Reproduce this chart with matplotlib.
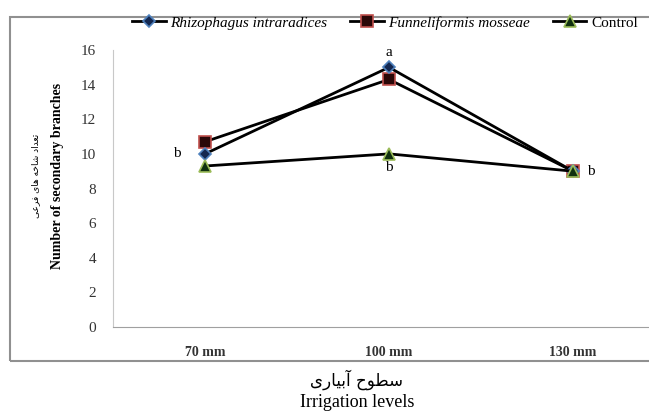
import matplotlib.pyplot as plt
from matplotlib.patches import Rectangle

plt.rcParams['font.family'] = ['Liberation Serif', 'DejaVu Sans']

levels = ['70 mm', '100 mm', '130 mm']
rhizophagus = [10.0, 15.0, 9.0]
funneliformis = [10.7, 14.3, 9.0]
control = [9.3, 10.0, 9.0]
# significance letters: (level index, value, letter)
letters = [(0, 10.0, 'b'), (1, 15.0, 'a'), (1, 10.0, 'b'), (2, 9.0, 'b')]

ylabel_fa = 'تعداد شاخه های فرعی'
xlabel_fa = 'سطوح آبیاری'

# minimal persian shaping (matplotlib has no complex text layout)
forms = {
    'ا': ('\uFE8D', '\uFE8E', None, None),
    'آ': ('\uFE81', '\uFE82', None, None),
    'ب': ('\uFE8F', '\uFE90', '\uFE91', '\uFE92'),
    'ت': ('\uFE95', '\uFE96', '\uFE97', '\uFE98'),
    'ح': ('\uFEA1', '\uFEA2', '\uFEA3', '\uFEA4'),
    'خ': ('\uFEA5', '\uFEA6', '\uFEA7', '\uFEA8'),
    'د': ('\uFEA9', '\uFEAA', None, None),
    'ر': ('\uFEAD', '\uFEAE', None, None),
    'س': ('\uFEB1', '\uFEB2', '\uFEB3', '\uFEB4'),
    'ش': ('\uFEB5', '\uFEB6', '\uFEB7', '\uFEB8'),
    'ط': ('\uFEC1', '\uFEC2', '\uFEC3', '\uFEC4'),
    'ع': ('\uFEC9', '\uFECA', '\uFECB', '\uFECC'),
    'ف': ('\uFED1', '\uFED2', '\uFED3', '\uFED4'),
    'ه': ('\uFEE9', '\uFEEA', '\uFEEB', '\uFEEC'),
    'و': ('\uFEED', '\uFEEE', None, None),
    'ی': ('\uFBFC', '\uFBFD', '\uFBFE', '\uFBFF'),
}


def shape(s):
    out = []
    for i, ch in enumerate(s):
        if ch not in forms:
            out.append(ch)
            continue
        prev = s[i - 1] if i > 0 else ' '
        nxt = s[i + 1] if i < len(s) - 1 else ' '
        join_prev = prev in forms and forms[prev][2] is not None
        join_next = nxt in forms and forms[ch][2] is not None
        iso, fin, ini, med = forms[ch]
        if join_prev and join_next:
            out.append(med)
        elif join_prev:
            out.append(fin)
        elif join_next:
            out.append(ini)
        else:
            out.append(iso)
    return ''.join(out)[::-1]


fig = plt.figure(figsize=(6.49, 4.15), dpi=100)
ax = fig.add_axes([113 / 649, 88 / 415, 552 / 649, 277 / 415])

x = [0.5, 1.5, 2.5]
ax.plot(x, funneliformis, color='black', linewidth=2, marker='s', markersize=8,
        markerfacecolor='#2a0808', markeredgecolor='#c0504d', markeredgewidth=1.2,
        label='Funneliformis mosseae', zorder=3)
ax.plot(x, rhizophagus, color='black', linewidth=2, marker='D', markersize=6,
        markerfacecolor='#142850', markeredgecolor='#4f81bd', markeredgewidth=1.2,
        label='Rhizophagus intraradices', zorder=4)
ax.plot(x, control, color='black', linewidth=2, marker='^', markersize=8,
        markerfacecolor='#103010', markeredgecolor='#9bbb59', markeredgewidth=1.2,
        label='Control', zorder=5)

offsets = {(0, 'b'): (-28, 0), (1, 'a'): (0, 15), (2, 'b'): (18, 0)}
for i, v, t in letters:
    dx, dy = offsets.get((i, t), (0, -14 if v < 12 else 15))
    ax.annotate(t, (x[i], v), xytext=(dx, dy), textcoords='offset pixels',
                ha='center', va='center', fontsize=11)

ax.set_xlim(0, 3)
ax.set_ylim(0, 16)
ax.set_yticks(range(0, 17, 2))
ax.set_xticks(x)
ax.set_xticklabels(levels, fontweight='bold', fontsize=10, color='#333333')
ax.tick_params(axis='both', length=0)
ax.tick_params(axis='y', pad=12, labelsize=11, labelcolor='#333333')
ax.tick_params(axis='x', pad=14)
for s in ['top', 'right']:
    ax.spines[s].set_visible(False)
ax.spines['left'].set_color('#c8c8c8')
ax.spines['bottom'].set_color('#a0a0a0')

handles, labels = ax.get_legend_handles_labels()
order = [1, 0, 2]
leg = fig.legend([handles[i] for i in order], [labels[i] for i in order],
                 loc='center', bbox_to_anchor=(0.593, 0.945), ncol=3, frameon=False,
                 fontsize=11, handlelength=2.2, columnspacing=1.5, handletextpad=0.3)
for t in leg.get_texts()[:2]:
    t.set_fontstyle('italic')

fig.patches.append(Rectangle((10 / 649, 1 - 361 / 415), 1.2, (361 - 17) / 415,
                             transform=fig.transFigure, fill=False,
                             edgecolor='#909090', linewidth=1.5))

fig.text(36 / 649, 1 - 176 / 415, shape(ylabel_fa), rotation=90, ha='center',
         va='center', fontsize=6.5, family=['DejaVu Sans'])
fig.text(58 / 649, 1 - 176 / 415, 'Number of secondary branches', rotation=90,
         ha='center', va='center', fontsize=10, fontweight='bold')
fig.text(0.55, 1 - 380 / 415, shape(xlabel_fa), ha='center', va='center',
         fontsize=12, family=['DejaVu Sans'])
fig.text(0.55, 1 - 402 / 415, 'Irrigation levels', ha='center', va='center',
         fontsize=13)

fig.savefig('out.png', dpi=100)
